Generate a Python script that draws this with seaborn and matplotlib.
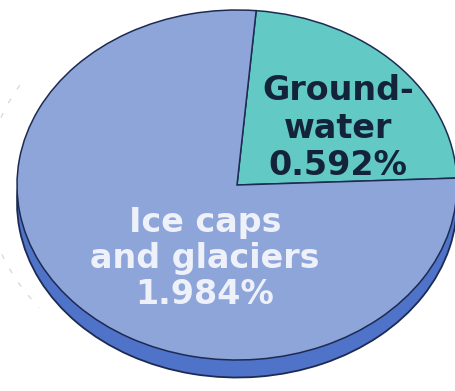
import matplotlib
matplotlib.use("Agg")
import matplotlib.pyplot as plt
from matplotlib.patches import Arc
import seaborn as sns

# share of the world's water (%)
labels = ["Ground-\nwater", "Ice caps\nand glaciers"]
values = [0.592, 1.984]
pct_text = ["0.592%", "1.984%"]

top_colors = ["#62c9c4", "#8ea5d9"]
side_colors = ["#3f9f9a", "#4f73c8"]
text_colors = ["#13243a", "#eef1fa"]

sns.set_theme(style="white")
plt.rcParams['font.family'] = ['DejaVu Sans']

fig = plt.figure(figsize=(4.56, 3.91), dpi=100)
ax = fig.add_axes([0, 0, 1, 1])

# faint dashed ring behind the pie
ax.add_patch(Arc((0, 0), 2 * 1.14, 2 * 1.14, theta1=150, theta2=218,
                 color="#d6d6d6", lw=0.9, ls=(0, (4, 9)), zorder=0))

# side of the disc (3D look)
ax.pie(values, colors=side_colors, startangle=85, counterclock=False,
       radius=1, center=(0, -0.1),
       wedgeprops=dict(edgecolor="#1d2b52", linewidth=1.3))
# top face
wedges, _ = ax.pie(values, colors=top_colors, startangle=85, counterclock=False,
                   radius=1, center=(0, 0),
                   wedgeprops=dict(edgecolor="#1d2b52", linewidth=1.1))

label_pos = [(0.46, 0.325), (-0.145, -0.42)]
spacing = [1.18, 1.13]
for lab, pct, (x, y), c, ls in zip(labels, pct_text, label_pos, text_colors, spacing):
    ax.text(x, y, lab + "\n" + pct, ha="center", va="center", color=c,
            fontsize=24, fontweight="bold", linespacing=ls, zorder=5)

# stretch the circle into a tilted ellipse
ax.set_aspect('auto')
ax.set_xlim(-237 / 220, (456 - 237) / 220)
ax.set_ylim(-206 / 175, (391 - 206) / 175)
ax.axis('off')

fig.savefig("out.png", dpi=100, facecolor="white")
